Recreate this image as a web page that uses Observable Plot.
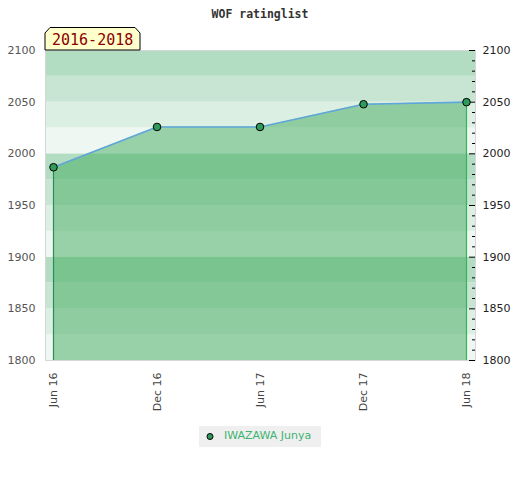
<!DOCTYPE html>
<html>
<head>
<meta charset="utf-8">
<script src="https://cdn.jsdelivr.net/npm/d3@7"></script>
<script src="https://cdn.jsdelivr.net/npm/@observablehq/plot@0.6"></script>
<style>
  body { margin: 0; background: #fff; }
  #wrap { position: relative; width: 520px; height: 480px; }
  #title { position: absolute; top: 7px; left: 0; width: 520px; text-align: center;
           font: bold 11.5px "DejaVu Sans Mono", monospace; line-height: 14px; color: #333; }
  #chart { position: absolute; top: 25px; left: 0; }
  #legend { position: absolute; top: 426px; left: 199px; width: 122px; height: 21px;
            background: #efefef; font: 11px "DejaVu Sans", sans-serif; color: #3cb371; }
</style>
</head>
<body>
<div id="wrap">
  <div id="title">WOF ratinglist</div>
  <div id="chart"></div>
  <div id="legend"></div>
</div>
<script>
// ---- data ----
const dateStrings = ["2016-06-01", "2016-12-01", "2017-06-01", "2017-12-01", "2018-06-01"];
const ratings = [1987, 2026, 2026, 2048, 2050];
const xTickLabels = ["Jun 16", "Dec 16", "Jun 17", "Dec 17", "Jun 18"];
const yTicks = [1800, 1850, 1900, 1950, 2000, 2050, 2100];
const yMinorTicks = [1810, 1820, 1830, 1840, 1860, 1870, 1880, 1890, 1910, 1920, 1930, 1940,
                     1960, 1970, 1980, 1990, 2010, 2020, 2030, 2040, 2060, 2070, 2080, 2090];
const bandStarts = [1800, 1825, 1850, 1875, 1900, 1925, 1950, 1975, 2000, 2025, 2050, 2075];
const bandColors = ["#eef7f1", "#dcefe3", "#c8e5d3", "#b3ddc2"];
const playerName = "IWAZAWA Junya";
const periodLabel = "2016-2018";
const chartTitle = "WOF ratinglist";

// ---- build tables ----
const dates = dateStrings.map(s => new Date(s + "T00:00:00Z"));
const series = dates.map((d, i) => ({date: d, rating: ratings[i]}));
const bands = bandStarts.map((s, i) => ({lo: s, hi: s + 25, color: bandColors[i % 4]}));
const first = series[0], last = series[series.length - 1];
const labelFor = d => xTickLabels[dates.findIndex(t => +t === +d)];

const W = 520, H = 390, mL = 45, mR = 45, mT = 25, mB = 55;

const plot = Plot.plot({
  width: W, height: H,
  marginTop: mT, marginBottom: mB, marginLeft: mL, marginRight: mR,
  style: {fontFamily: "DejaVu Sans, sans-serif", fontSize: "11px", background: "transparent", overflow: "visible"},
  x: {type: "utc", domain: [first.date, last.date], insetLeft: 8, insetRight: 9},
  y: {domain: [1800, 2100]},
  color: {type: "identity"},
  marks: [
    Plot.rect(bands, {y1: "lo", y2: "hi", fill: "color"}),
    Plot.areaY(series, {x: "date", y1: 1800, y2: "rating", fill: "#41ab5d", fillOpacity: 0.5}),
    Plot.frame({stroke: "#d6d6d6"}),
    Plot.ruleX([first], {x: "date", y1: 1800, y2: "rating", stroke: "#2e8b57", strokeWidth: 1.2}),
    Plot.ruleX([last], {x: "date", y1: 1800, y2: "rating", stroke: "#34b25c", strokeWidth: 1.2}),
    Plot.line(series, {x: "date", y: "rating", stroke: "#5fa6da", strokeWidth: 1.6}),
    Plot.tickY(yMinorTicks, {y: d => d, insetLeft: W - mL - mR - 3, stroke: "#000", strokeWidth: 1}),
    Plot.tickY(yTicks, {y: d => d, insetLeft: W - mL - mR - 6, stroke: "#000", strokeWidth: 1}),
    Plot.dot(series, {x: "date", y: "rating", r: 3.8, fill: "#2e9b5a", stroke: "#000", strokeWidth: 1}),
    Plot.axisY(yTicks, {anchor: "left", tickSize: 0, tickPadding: 10, label: null, color: "#555", fontSize: 11, tickFormat: d => String(d)}),
    Plot.axisY(yTicks, {anchor: "right", tickSize: 0, tickPadding: 7, label: null, color: "#222", fontSize: 11, tickFormat: d => String(d)}),
    Plot.axisX(dates, {anchor: "bottom", tickSize: 0, tickPadding: 12, tickRotate: -90,
                       tickFormat: labelFor, label: null, color: "#444", fontSize: 11})
  ]
});
document.getElementById("chart").appendChild(plot);

// period badge (drawn in the top margin over the frame)
const svg = d3.select(plot);
const badge = svg.append("g").attr("text-anchor", "start");
badge.append("polygon")
  .attr("points", "45,8 50,2.5 135,2.5 140,8 140,25 45,25")
  .attr("fill", "#ffffcc").attr("stroke", "#000").attr("stroke-width", 1);
badge.append("text")
  .attr("x", 52).attr("y", 20)
  .attr("text-anchor", "start")
  .attr("fill", "#8b0000")
  .style("font", "15px 'DejaVu Sans Mono', monospace")
  .text(periodLabel);

document.getElementById("title").textContent = chartTitle;

// legend
const lg = d3.select("#legend");
const lsvg = lg.append("svg").attr("width", 122).attr("height", 21).style("position", "absolute").style("left", 0).style("top", 0);
lsvg.append("circle").attr("cx", 11).attr("cy", 10.5).attr("r", 3).attr("fill", "#2e9b5a").attr("stroke", "#000");
lg.append("span").text(playerName)
  .style("position", "absolute").style("left", "25px").style("top", "3px").style("line-height", "14px");
</script>
</body>
</html>
